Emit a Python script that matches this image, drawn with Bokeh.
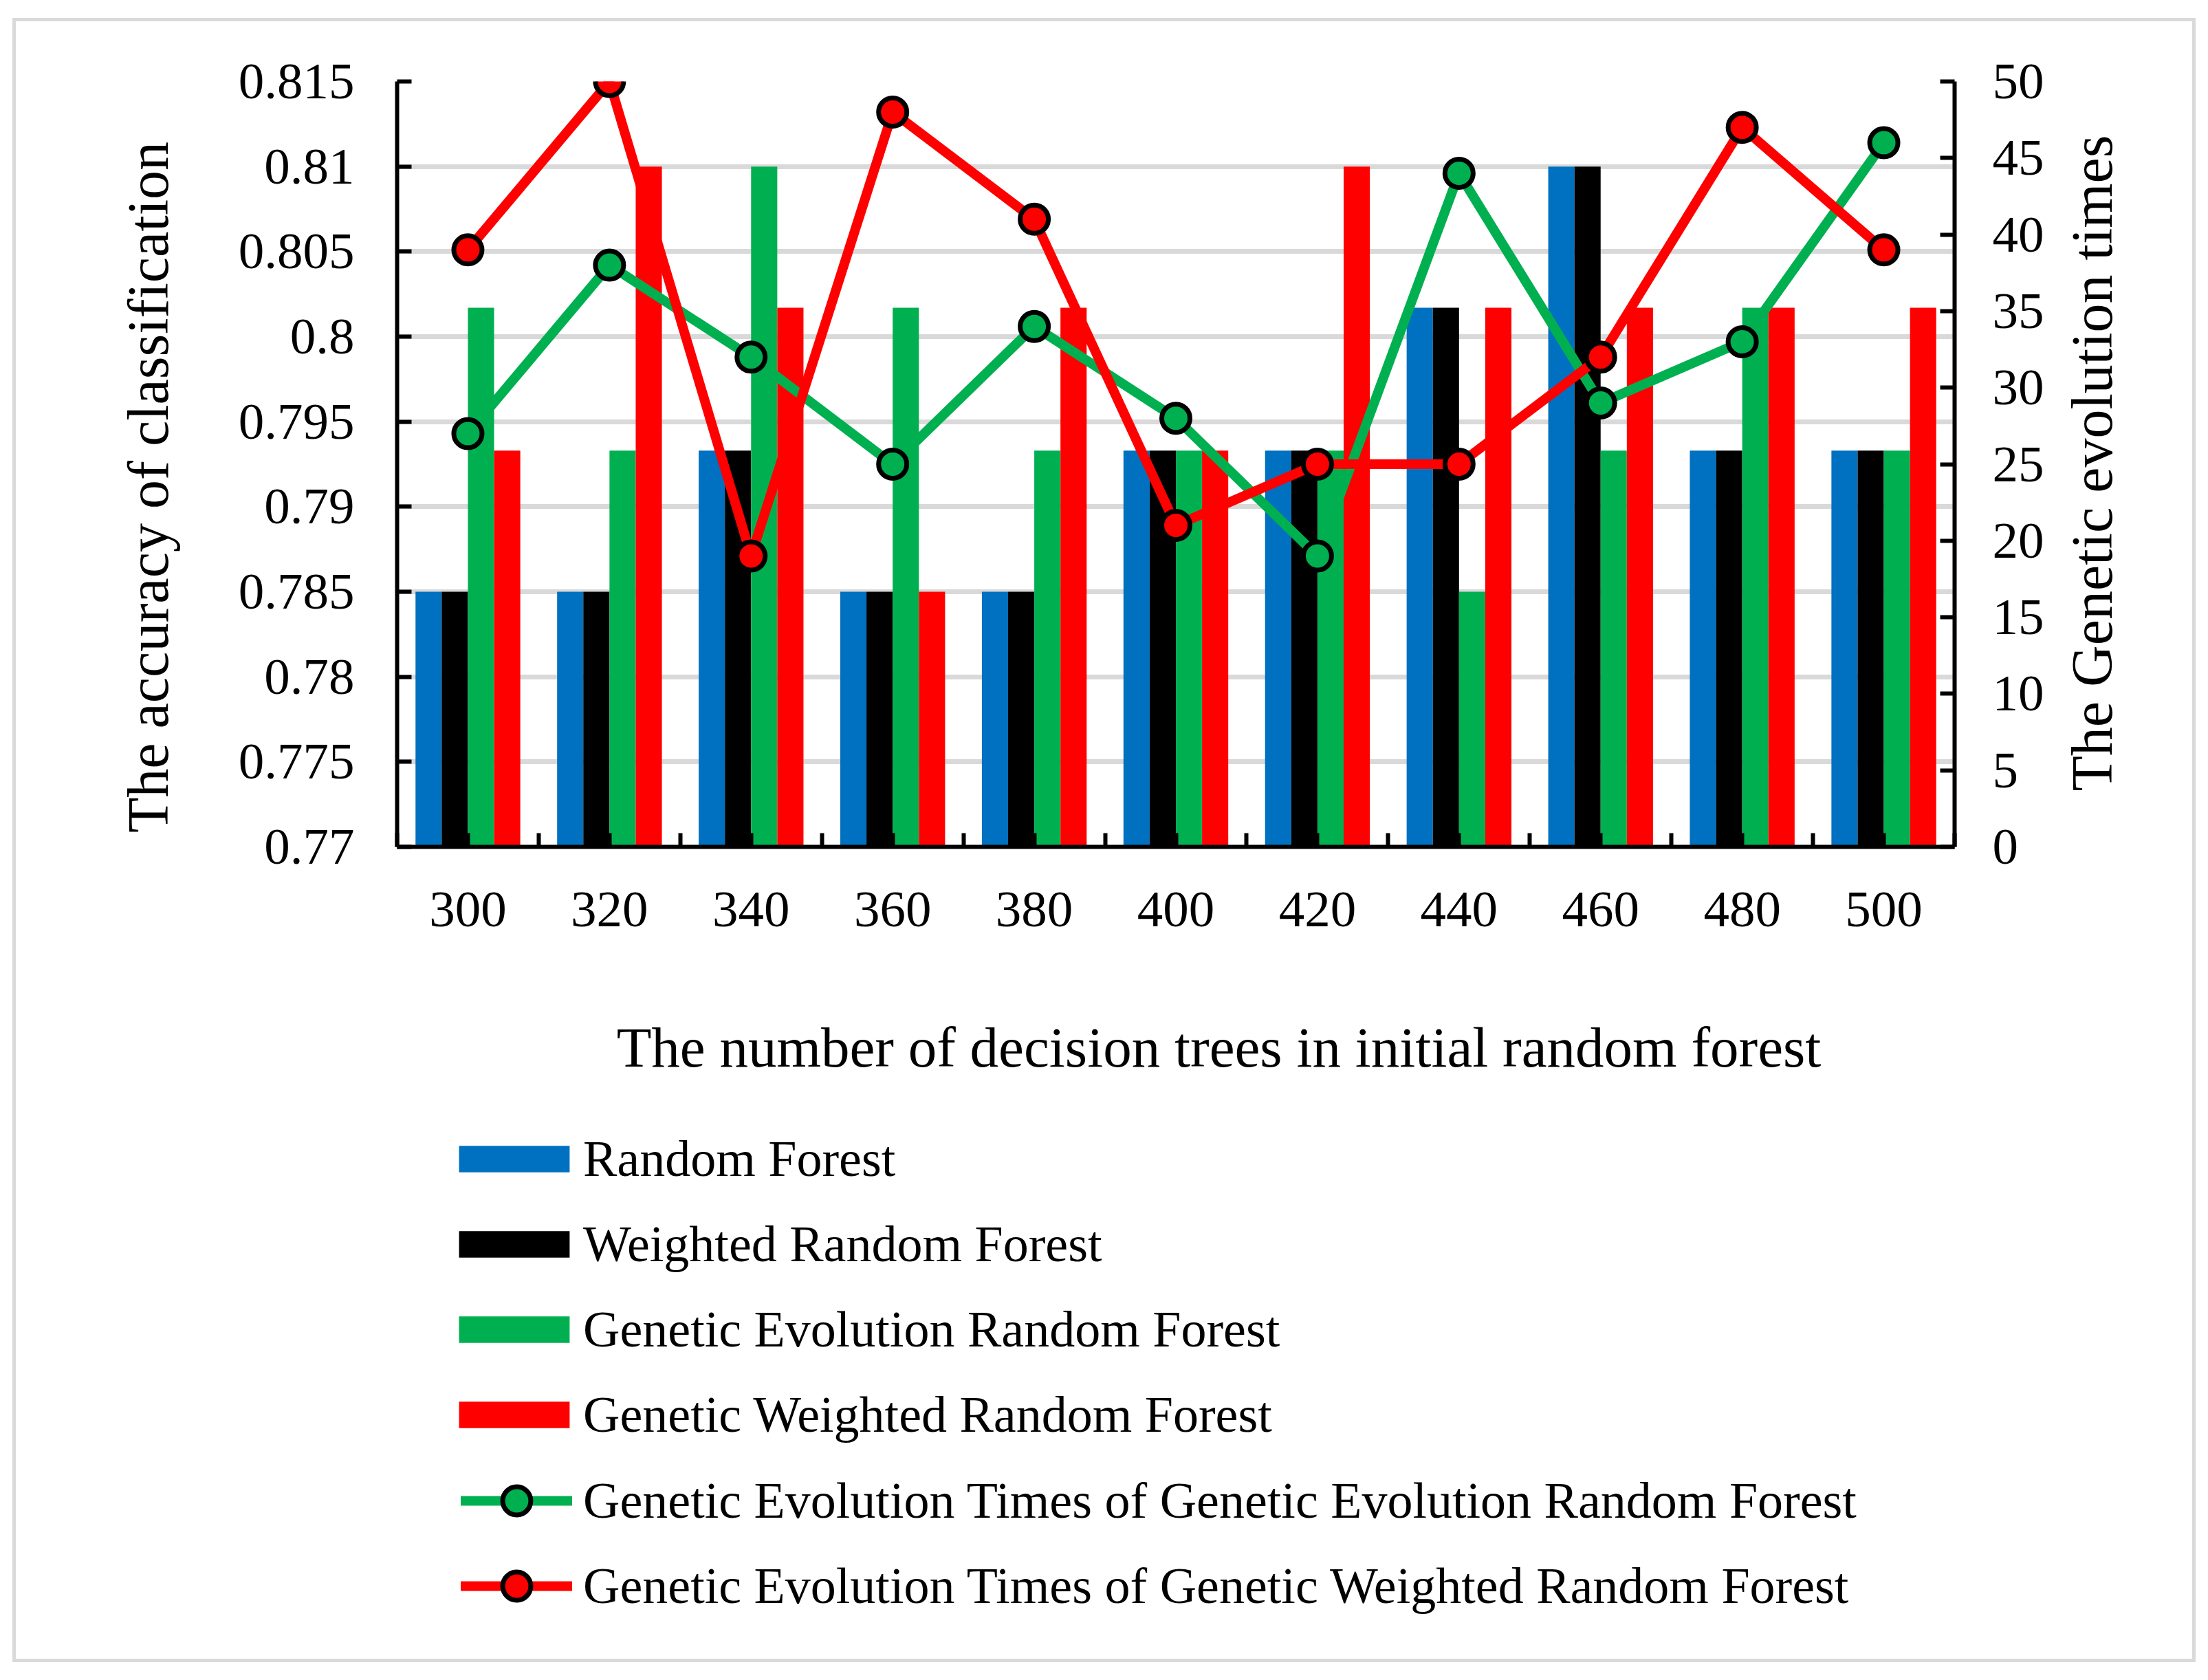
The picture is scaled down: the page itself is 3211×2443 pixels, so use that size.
import math

from bokeh.plotting import figure
from bokeh.layouts import column, row
from bokeh.models import (ColumnDataSource, Range1d, LinearAxis, SingleIntervalTicker,
                          FixedTicker, PrintfTickFormatter, Legend, LegendItem, Label)
from bokeh.transform import dodge
from bokeh.embed import file_html
from bokeh.resources import INLINE

trees = [300, 320, 340, 360, 380, 400, 420, 440, 460, 480, 500]
rf = [0.785, 0.785, 0.7933, 0.785, 0.785, 0.7933, 0.7933, 0.8017, 0.81, 0.7933, 0.7933]
wrf = [0.785, 0.785, 0.7933, 0.785, 0.785, 0.7933, 0.7933, 0.8017, 0.81, 0.7933, 0.7933]
gerf = [0.8017, 0.7933, 0.81, 0.8017, 0.7933, 0.7933, 0.7933, 0.785, 0.7933, 0.8017, 0.7933]
gwrf = [0.7933, 0.81, 0.8017, 0.785, 0.8017, 0.7933, 0.81, 0.8017, 0.8017, 0.8017, 0.8017]
gerf_times = [27, 38, 32, 25, 34, 28, 19, 44, 29, 33, 46]
gwrf_times = [39, 50, 19, 48, 41, 21, 25, 25, 32, 47, 39]
acc_ticks = [0.77, 0.775, 0.78, 0.785, 0.79, 0.795, 0.8, 0.805, 0.81, 0.815]

names = ["Random Forest", "Weighted Random Forest", "Genetic Evolution Random Forest",
         "Genetic Weighted Random Forest",
         "Genetic Evolution Times of Genetic Evolution Random Forest",
         "Genetic Evolution Times of Genetic Weighted Random Forest"]
x_title = "The number of decision trees in initial random forest"
y_title = "The accuracy of classification"
y2_title = "The Genetic evolution times"

BLUE, BLACK, GREEN, RED = "#0070C0", "#000000", "#00B050", "#FF0000"
FONT = "Liberation Serif"

src = ColumnDataSource(dict(trees=trees, rf=rf, wrf=wrf, gerf=gerf, gwrf=gwrf,
                            gerf_times=gerf_times, gwrf_times=gwrf_times))

W, H = 3165, 2381              # inside the grey border
LW, PW, H1 = 279, 2685, 1400
RW, H2 = W - LW - PW, H - H1


def blank(w, h):
    f = figure(width=w, height=h, x_range=Range1d(0, 1), y_range=Range1d(0, 1),
               output_backend="svg", toolbar_location=None, min_border=0,
               x_axis_location=None, y_axis_location=None)
    f.outline_line_color = None
    f.grid.visible = False
    return f


def title_label(text, x, y, angle=0.0, size="84px"):
    return Label(x=x, y=y, x_units="screen", y_units="screen", angle=angle, text=text,
                 text_font=FONT, text_font_size=size, text_color="black",
                 text_align="center", text_baseline="alphabetic")


p = figure(width=PW, height=H1, x_range=Range1d(290, 510), y_range=Range1d(0.77, 0.815),
           output_backend="svg", toolbar_location=None,
           min_border_left=275, min_border_right=145,
           min_border_top=87, min_border_bottom=H1 - 1200)
p.outline_line_color = None
p.xgrid.visible = False
p.ygrid.grid_line_color = "#d9d9d9"
p.ygrid.grid_line_width = 7

for col, off, c in [("rf", -5.55, BLUE), ("wrf", -1.85, BLACK),
                    ("gerf", 1.85, GREEN), ("gwrf", 5.55, RED)]:
    p.vbar(x=dodge("trees", off, range=p.x_range), top=col, bottom=0.77, width=3.7,
           source=src, fill_color=c, line_color=None)

p.extra_y_ranges = {"times": Range1d(0, 50)}
for col, c in [("gerf_times", GREEN), ("gwrf_times", RED)]:
    p.line("trees", col, source=src, y_range_name="times", line_color=c,
           line_width=14, line_join="round", line_cap="round")
    p.scatter("trees", col, source=src, y_range_name="times", marker="circle",
              size=41, fill_color=c, line_color="black", line_width=7)

right = LinearAxis(y_range_name="times", ticker=SingleIntervalTicker(interval=5))
p.add_layout(right, "right")

p.xaxis.ticker = SingleIntervalTicker(interval=20, num_minor_ticks=2)
p.yaxis[0].ticker = FixedTicker(ticks=acc_ticks)
p.yaxis[0].formatter = PrintfTickFormatter(format="%g")

for ax in [p.xaxis[0], p.yaxis[0], right]:
    ax.axis_line_color = "black"
    ax.axis_line_width = 6
    ax.major_tick_line_color = "black"
    ax.major_tick_line_width = 6
    ax.major_tick_in = 21
    ax.major_tick_out = 0
    ax.minor_tick_line_color = None
    ax.major_label_text_font = FONT
    ax.major_label_text_font_size = "75px"
    ax.major_label_text_color = "black"
    ax.major_label_standoff = 62

xa = p.xaxis[0]
xa.major_tick_in = 0
xa.minor_tick_line_color = "black"
xa.minor_tick_line_width = 6
xa.minor_tick_in = 20
xa.minor_tick_out = 0
xa.major_label_standoff = 66
right.major_label_standoff = 51

# axis titles beside the chart, both reading bottom to top
left = blank(LW, H1)
left.add_layout(title_label(y_title, 192, 523, math.pi / 2))
rside = blank(RW, H1)
rside.add_layout(title_label(y2_title, 55, 558, math.pi / 2))

# x title and legend strip under the chart
q = blank(W, H2)
q.add_layout(title_label(x_title, 1749, 890, 0.0, "83px"))
qbars = [q.vbar(x="trees", top=col, width=0.1, source=src, fill_color=c, line_color=None)
         for col, c in [("rf", BLUE), ("wrf", BLACK), ("gerf", GREEN), ("gwrf", RED)]]
qlines = []
for col, c in [("gerf_times", GREEN), ("gwrf_times", RED)]:
    l = q.line("trees", col, source=src, line_color=c, line_width=14, line_cap="round")
    s = q.scatter("trees", col, source=src, marker="circle", size=41, fill_color=c,
                  line_color="black", line_width=7)
    qlines.append([l, s])

common = dict(padding=0, margin=0, border_line_color=None, background_fill_alpha=0,
              label_text_font=FONT, label_text_font_size="74px", label_text_color="black")
leg_bars = Legend(items=[LegendItem(label=n, renderers=[g]) for n, g in zip(names[:4], qbars)],
                  location=(624, 310), glyph_width=201, glyph_height=48, label_height=90,
                  spacing=34, label_standoff=0, **common)
leg_lines = Legend(items=[LegendItem(label=n, renderers=g) for n, g in zip(names[4:], qlines)],
                   location=(647, 55), glyph_width=162, glyph_height=102, label_height=90,
                   spacing=22, label_standoff=16, **common)
q.add_layout(leg_bars)
q.add_layout(leg_lines)

page = column(row(left, p, rside), q)
page.margin = (26, 0, 0, 18)
page.styles = {"border": "5px solid #d9d9d9"}

open("out.html", "w").write(file_html(page, INLINE))
